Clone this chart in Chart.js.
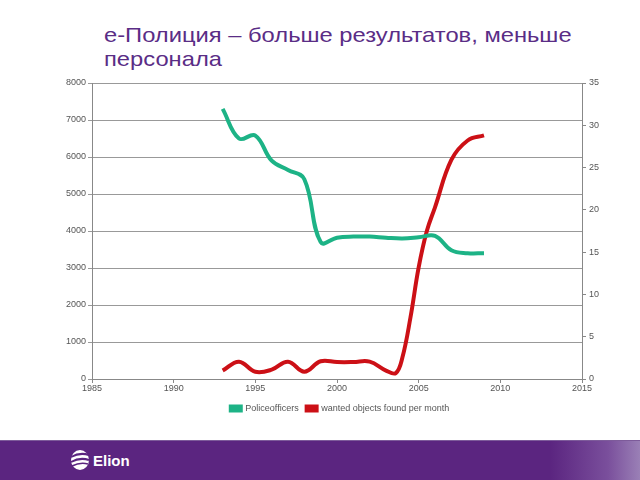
<!DOCTYPE html>
<html>
<head>
<meta charset="utf-8">
<script src="https://cdn.jsdelivr.net/npm/chart.js@4"></script>
<style>
  html, body { margin:0; padding:0; width:640px; height:480px; background:#fff; overflow:hidden; }
  #title { position:absolute; left:104px; top:23px; font-family:"Liberation Sans", Arial, sans-serif; font-size:21px; line-height:24px; color:#5a2d86; white-space:nowrap; transform:scaleX(1.13); transform-origin:left top; }
  #wrap { position:absolute; left:0; top:0; width:640px; height:440px; }
  #footer { position:absolute; left:0; top:440px; width:640px; height:40px;
    background: linear-gradient(to right, #5b2580 0%, #5b2580 86%, #7a4f9c 95%, #9a80b6 100%); border-top:1px solid #7d5b9a; box-sizing:border-box; }
  #logo { position:absolute; left:70px; top:7px; height:24px; display:flex; align-items:center; }
  #logo span { font-family:"Liberation Sans", Arial, sans-serif; font-weight:bold; color:#fff; font-size:15px; margin-left:3px; }
</style>
</head>
<body>
<div id="title">е-Полиция – больше результатов, меньше<br>персонала</div>
<div id="wrap"><canvas id="c" width="640" height="440"></canvas></div>
<div id="footer">
  <div id="logo">
    <svg width="20" height="24" viewBox="0 0 20 24">
      <ellipse cx="10" cy="12" rx="9" ry="10" fill="#fff"/>
      <path d="M1 9 Q10 4 19 7" stroke="#5b2580" stroke-width="2" fill="none"/>
      <path d="M1 14 Q10 9 19 12" stroke="#5b2580" stroke-width="2" fill="none"/>
      <path d="M2 18 Q10 14 18 16" stroke="#5b2580" stroke-width="1.5" fill="none"/>
    </svg>
    <span>Elion</span>
  </div>
</div>
<script>
const policeYears = [1993,1994,1995,1996,1997,1998,1999,2000,2001,2002,2003,2004,2005,2006,2007,2008,2009];
const policeOfficers = [7300,6500,6580,5900,5650,5400,3700,3820,3850,3850,3820,3800,3830,3870,3480,3400,3400];
const wantedYears = [1993,1994,1995,1996,1997,1998,1999,2000,2001,2002,2003,2003.6,2004,2004.5,2005,2005.5,2006,2007,2008,2009];
const wantedObjects = [1.0,2.05,0.85,1.1,2.05,0.87,2.1,2.0,2.0,2.05,1.0,0.7,2.5,7.3,13.2,17.5,20.3,25.9,28.2,28.8];
const seriesNames = ["Policeofficers","wanted objects found per month"];
const xTicks = [1985,1990,1995,2000,2005,2010,2015];

const FONT = "'Liberation Sans', Arial, sans-serif";
const toPts = (xs, ys) => xs.map((x,i)=>({x:x, y:ys[i]}));

new Chart(document.getElementById('c'), {
  type:'line',
  data:{
    datasets:[
      { label:seriesNames[0], data:toPts(policeYears, policeOfficers), yAxisID:'y',
        borderColor:'#1db386', backgroundColor:'#1db386', borderWidth:4, pointRadius:0, tension:0.4 },
      { label:seriesNames[1], data:toPts(wantedYears, wantedObjects), yAxisID:'y1',
        borderColor:'#cc1016', backgroundColor:'#cc1016', borderWidth:4, pointRadius:0, tension:0.4 }
    ]
  },
  options:{
    animation:false, responsive:false,
    layout:{ padding:{ left:40, right:0, top:83, bottom:17 } },
    plugins:{
      legend:{ position:'bottom',
        labels:{ boxWidth:10, boxHeight:4, padding:8, color:'#555', font:{ family:FONT, size:9 } } },
      tooltip:{ enabled:false }
    },
    scales:{
      x:{ type:'linear', min:1985, max:2015,
        afterBuildTicks: s => { s.ticks = xTicks.map(v=>({value:v})); },
        afterFit: s => { s.height = 17; },
        ticks:{ callback: v => String(v), color:'#555', font:{family:FONT,size:9}, padding:0, maxRotation:0 },
        grid:{ drawOnChartArea:false, drawTicks:true, tickLength:4, color:'#888' },
        border:{ color:'#888', width:1 } },
      y:{ position:'left', min:0, max:8000,
        afterFit: s => { s.width = 52; },
        ticks:{ stepSize:1000, callback: v => String(v), color:'#555', font:{family:FONT,size:9}, padding:2 },
        grid:{ color:'#999', lineWidth:1, tickLength:4 },
        border:{ color:'#888', width:1 } },
      y1:{ position:'right', min:0, max:35,
        afterFit: s => { s.width = 58; },
        ticks:{ stepSize:5, callback: v => String(v), color:'#555', font:{family:FONT,size:9}, padding:3 },
        grid:{ drawOnChartArea:false, tickLength:4, color:'#888' },
        border:{ color:'#888', width:1 } }
    }
  }
});
</script>
</body>
</html>
